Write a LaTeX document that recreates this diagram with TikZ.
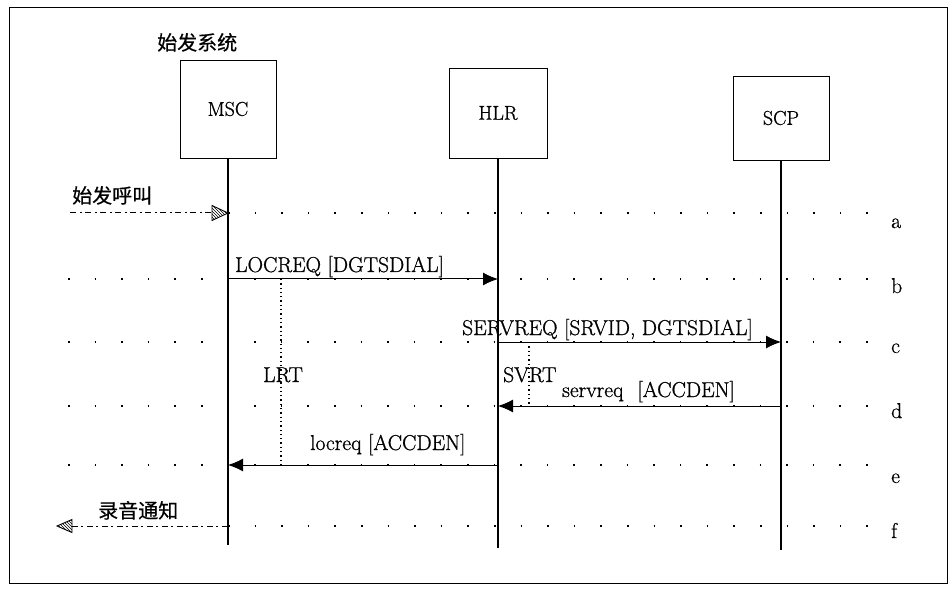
\documentclass[tikz,border=0pt]{standalone}
\usepackage{fontspec}
\setmainfont{Latin Modern Roman}[FakeBold=0.9]
\newfontfamily\cjk{Noto Sans CJK SC}[FakeBold=0.6]
\usetikzlibrary{arrows.meta,patterns}
\begin{document}
\begin{tikzpicture}[x=1pt,y=-1pt,
  ent/.style={draw,line width=0.8pt,inner sep=0pt,font=\fontsize{20}{24}\selectfont},
  life/.style={line width=1.1pt},
  row/.style={line width=1.3pt,dash pattern=on 1.6pt off 25pt},
  msg/.style={line width=1pt,-{Latex[length=15pt,width=13pt]}},
  lbl/.style={font=\fontsize{21.5}{25}\selectfont,inner sep=0pt,anchor=base west},
  cjklbl/.style={font=\cjk\fontsize{20}{24}\selectfont,inner sep=0pt,anchor=base west},
  timer/.style={line width=1.2pt,dash pattern=on 1.3pt off 3pt},
  ext/.style={line width=1pt,dash pattern=on 6pt off 4pt on 2pt off 3pt},
  hatch/.style={draw,line width=0.9pt,pattern=north west lines}
]
\useasboundingbox (0,0) rectangle (952,593);
\node[draw,line width=0.7pt,minimum width=938pt,minimum height=576pt,inner sep=0pt] (frame) at (478,295) {};

\node[cjklbl] (sys) at (157,50) {始发系统};
\node[ent,minimum width=96pt,minimum height=98pt] (msc) at (228,109) {MSC};
\node[ent,minimum width=98pt,minimum height=90pt] (hlr) at (498,113) {HLR};
\node[ent,minimum width=96pt,minimum height=84pt] (scp) at (781,118) {SCP};

% row coordinates
\coordinate (ra) at (0,213);
\coordinate (rb) at (0,279);
\coordinate (rc) at (0,342);
\coordinate (rd) at (0,406);
\coordinate (re) at (0,465);
\coordinate (rf) at (0,526);
\coordinate (left) at (68,0);
\coordinate (right) at (872,0);

% lifelines
\coordinate (mscend) at (228,545);
\coordinate (hlrend) at (498,548);
\coordinate (scpend) at (781,550);
\draw[life] (msc.south) -- (mscend);
\draw[life] (hlr.south) -- (hlrend);
\draw[life] (scp.south) -- (scpend);

% dotted rows
\draw[row] (msc |- ra) -- (right |- ra);
\draw[row] (left |- rb) -- (right |- rb);
\draw[row] (left |- rc) -- (right |- rc);
\draw[row] (left |- rd) -- (right |- rd);
\draw[row] (left |- re) -- (right |- re);
\draw[row] (msc |- rf) -- (right |- rf);

% row labels
\node[lbl] (la) at (891,228) {a};
\node[lbl] (lb) at (891,293) {b};
\node[lbl] (lc) at (891,353) {c};
\node[lbl] (ld) at (891,418) {d};
\node[lbl] (le) at (891,483) {e};
\node[lbl] (lf) at (891,538) {f};

% originating call
\coordinate (ina) at (70,213);
\coordinate (ahead) at (212,213);
\draw[ext] (ina) -- (ahead);
\draw[hatch] (msc |- ra) -- (212,205.5) -- (212,220.5) -- cycle;
\node[cjklbl] (call) at (72,203) {始发呼叫};

% LOCREQ
\draw[msg] (msc |- rb) -- (hlr |- rb);
\node[lbl] (locreq) at (235,272) {LOCREQ [DGTSDIAL]};

% SERVREQ
\draw[msg] (hlr |- rc) -- (scp |- rc);
\node[lbl] (servreq) at (462,335) {SERVREQ [SRVID, DGTSDIAL]};

% servreq
\draw[msg] (scp |- rd) -- (hlr |- rd);
\node[lbl] (servresp) at (562,397) {servreq\hspace{14pt}[ACCDEN]};

% locreq
\draw[msg] (hlr |- re) -- (msc |- re);
\node[lbl] (locresp) at (310,450) {locreq [ACCDEN]};

% timers
\coordinate (lrtx) at (281,0);
\coordinate (svrtx) at (529,0);
\draw[timer] (lrtx |- rb) -- (lrtx |- re);
\draw[timer] (svrtx |- rc) -- (svrtx |- rd);
\node[lbl] (lrt) at (263,382) {LRT};
\node[lbl] (svrt) at (503,382) {SVRT};

% announcement
\coordinate (outf) at (57,526);
\coordinate (fhead) at (72,526);
\draw[ext] (msc |- rf) -- (fhead);
\draw[hatch] (outf) -- (72,519.5) -- (72,532.5) -- cycle;
\node[cjklbl] (ann) at (98,518) {录音通知};
\end{tikzpicture}
\end{document}
